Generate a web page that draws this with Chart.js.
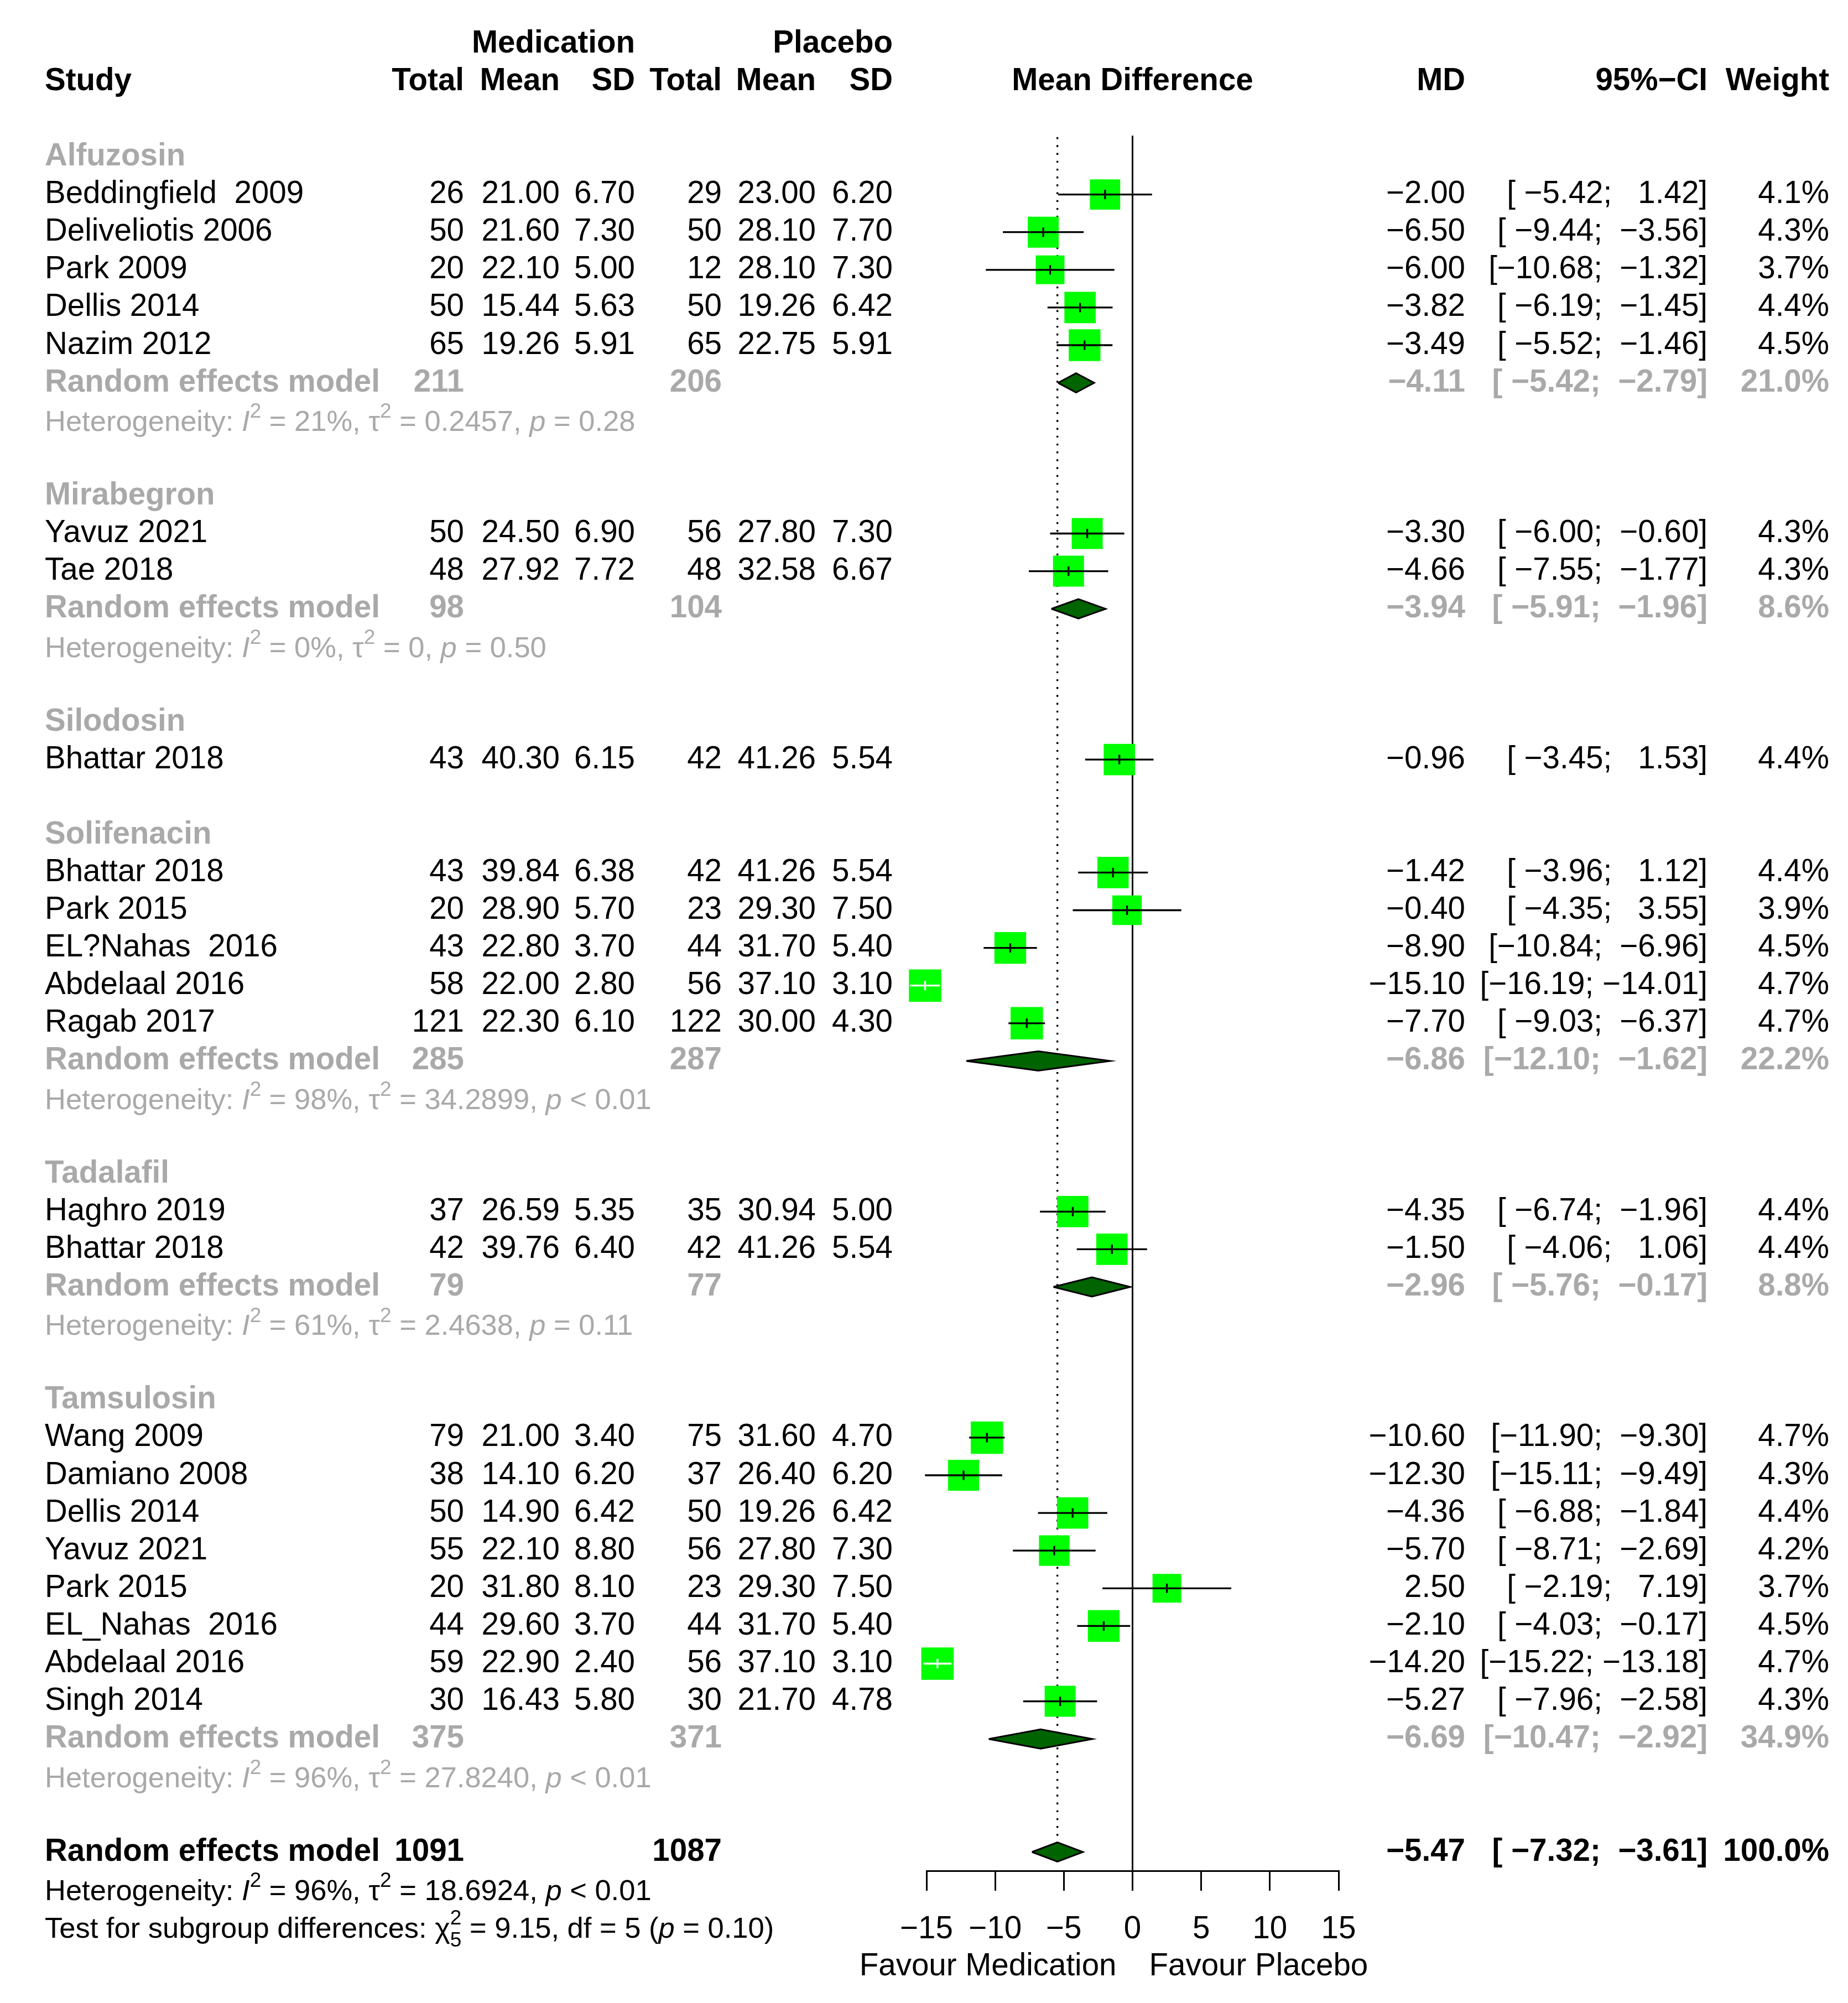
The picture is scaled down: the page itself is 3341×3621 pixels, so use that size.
<!DOCTYPE html>
<html>
<head>
<meta charset="utf-8">
<script src="https://cdn.jsdelivr.net/npm/chart.js@4.4.1/dist/chart.umd.min.js"></script>
<style>
html,body{margin:0;padding:0;background:#fff;}
#wrap{width:3341px;height:3621px;position:relative;}
canvas{display:block;}
</style>
</head>
<body>
<div id="wrap"><canvas id="c" width="3341" height="3621"></canvas></div>
<script>
// ---------------- DATA ----------------
const groupNames = ['Alfuzosin', 'Mirabegron', 'Silodosin', 'Solifenacin', 'Tadalafil', 'Tamsulosin'];

const studyNames = ['Beddingfield  2009', 'Deliveliotis 2006', 'Park 2009', 'Dellis 2014', 'Nazim 2012',
  'Yavuz 2021', 'Tae 2018',
  'Bhattar 2018',
  'Bhattar 2018', 'Park 2015', 'EL?Nahas  2016', 'Abdelaal 2016', 'Ragab 2017',
  'Haghro 2019', 'Bhattar 2018',
  'Wang 2009', 'Damiano 2008', 'Dellis 2014', 'Yavuz 2021', 'Park 2015', 'EL_Nahas  2016', 'Abdelaal 2016', 'Singh 2014'];
const studyGroup = [0, 0, 0, 0, 0, 1, 1, 2, 3, 3, 3, 3, 3, 4, 4, 5, 5, 5, 5, 5, 5, 5, 5];

const medTotal = [26, 50, 20, 50, 65, 50, 48, 43, 43, 20, 43, 58, 121, 37, 42, 79, 38, 50, 55, 20, 44, 59, 30];
const medMean = [21.00, 21.60, 22.10, 15.44, 19.26, 24.50, 27.92, 40.30, 39.84, 28.90, 22.80, 22.00, 22.30, 26.59, 39.76, 21.00, 14.10, 14.90, 22.10, 31.80, 29.60, 22.90, 16.43];
const medSD = [6.70, 7.30, 5.00, 5.63, 5.91, 6.90, 7.72, 6.15, 6.38, 5.70, 3.70, 2.80, 6.10, 5.35, 6.40, 3.40, 6.20, 6.42, 8.80, 8.10, 3.70, 2.40, 5.80];
const plaTotal = [29, 50, 12, 50, 65, 56, 48, 42, 42, 23, 44, 56, 122, 35, 42, 75, 37, 50, 56, 23, 44, 56, 30];
const plaMean = [23.00, 28.10, 28.10, 19.26, 22.75, 27.80, 32.58, 41.26, 41.26, 29.30, 31.70, 37.10, 30.00, 30.94, 41.26, 31.60, 26.40, 19.26, 27.80, 29.30, 31.70, 37.10, 21.70];
const plaSD = [6.20, 7.70, 7.30, 6.42, 5.91, 7.30, 6.67, 5.54, 5.54, 7.50, 5.40, 3.10, 4.30, 5.00, 5.54, 4.70, 6.20, 6.42, 7.30, 7.50, 5.40, 3.10, 4.78];
const meanDiff = [-2.00, -6.50, -6.00, -3.82, -3.49, -3.30, -4.66, -0.96, -1.42, -0.40, -8.90, -15.10, -7.70, -4.35, -1.50, -10.60, -12.30, -4.36, -5.70, 2.50, -2.10, -14.20, -5.27];
const ciLower = [-5.42, -9.44, -10.68, -6.19, -5.52, -6.00, -7.55, -3.45, -3.96, -4.35, -10.84, -16.19, -9.03, -6.74, -4.06, -11.90, -15.11, -6.88, -8.71, -2.19, -4.03, -15.22, -7.96];
const ciUpper = [1.42, -3.56, -1.32, -1.45, -1.46, -0.60, -1.77, 1.53, 1.12, 3.55, -6.96, -14.01, -6.37, -1.96, 1.06, -9.30, -9.49, -1.84, -2.69, 7.19, -0.17, -13.18, -2.58];
const weight = [4.1, 4.3, 3.7, 4.4, 4.5, 4.3, 4.3, 4.4, 4.4, 3.9, 4.5, 4.7, 4.7, 4.4, 4.4, 4.7, 4.3, 4.4, 4.2, 3.7, 4.5, 4.7, 4.3];

const groupMedTotal = [211, 98, null, 285, 79, 375];
const groupPlaTotal = [206, 104, null, 287, 77, 371];
const groupMD = [-4.11, -3.94, null, -6.86, -2.96, -6.69];
const groupLower = [-5.42, -5.91, null, -12.10, -5.76, -10.47];
const groupUpper = [-2.79, -1.96, null, -1.62, -0.17, -2.92];
const groupWeight = [21.0, 8.6, null, 22.2, 8.8, 34.9];
const groupI2 = ['21%', '0%', null, '98%', '61%', '96%'];
const groupTau2 = ['0.2457', '0', null, '34.2899', '2.4638', '27.8240'];
const groupP = ['= 0.28', '= 0.50', null, '< 0.01', '= 0.11', '< 0.01'];

const overallMedTotal = 1091;
const overallPlaTotal = 1087;
const overallMD = -5.47;
const overallLower = -7.32;
const overallUpper = -3.61;
const overallWeight = 100.0;
const overallI2 = '96%';
const overallTau2 = '18.6924';
const overallP = '< 0.01';
const subgroupChi2 = '9.15';
const subgroupDf = '5';
const subgroupP = '= 0.10';

const xTickValues = [-15, -10, -5, 0, 5, 10, 15];
const labelLeft = 'Favour Medication';
const labelRight = 'Favour Placebo';

// ---------------- LAYOUT / STYLE ----------------
const W = 3341, H = 3621;
const ROW0 = 283.5, ROWH = 68.1;
const PLOT_L = 1675, PLOT_R = 2420;
const AXIS_H = 180;
const FONT = '"Liberation Sans", Arial, Helvetica, sans-serif';
const SIZE = 56.5, HSIZE = 52.5;
const GRAY = '#A9A9A9';
const COL = {study: 81, nMed: 839, meanMed: 1012, sdMed: 1148, nPla: 1305, meanPla: 1475, sdPla: 1614, md: 2649, ci: 3087, w: 3307};
const BOX_K = 27;       // square side = BOX_K * sqrt(weight)
const DIA_H = 0.257;    // diamond half height in rows

// ---------------- ROWS ----------------
const rows = [];
const studyRow = [];
const groupRemRow = [];
let rr = 0;
groupNames.forEach((g, gi) => {
  rows.push({type: 'group', gi, r: rr++});
  studyNames.forEach((s, si) => {
    if (studyGroup[si] === gi) { studyRow[si] = rr; rows.push({type: 'study', si, r: rr++}); }
  });
  if (groupMD[gi] !== null) {
    groupRemRow[gi] = rr;
    rows.push({type: 'rem', gi, r: rr++});
    rows.push({type: 'het', gi, r: rr++});
  }
  rr++;
});
const overallRow = rr;
const yMin = -0.5, yMax = overallRow + 0.5;
const plotBottom = ROW0 + yMax * ROWH;

// ---------------- FORMAT ----------------
const minus = v => (v < 0 ? '\u2212' : '') + Math.abs(v).toFixed(2);
const padL = (s, n) => ' '.repeat(Math.max(0, n - s.length)) + s;
const ciText = (lo, hi) => '[' + padL(minus(lo), 6) + '; ' + padL(minus(hi), 6) + ']';
const wText = w => w.toFixed(1) + '%';

// ---------------- DATASETS ----------------
const pxPerUnit = (PLOT_R - PLOT_L) / 30;
const side = si => BOX_K * Math.sqrt(weight[si]);
const inside = studyNames.map((s, si) => (ciUpper[si] - ciLower[si]) * pxPerUnit <= side(si));

const ciBlack = [], ciWhite = [];
studyNames.forEach((s, si) => {
  const tgt = inside[si] ? ciWhite : ciBlack;
  tgt.push({x: ciLower[si], y: studyRow[si]}, {x: ciUpper[si], y: studyRow[si]}, {x: null, y: null});
});

const squares = studyNames.map((s, si) => ({x: meanDiff[si], y: studyRow[si]}));
const squareRadius = studyNames.map((s, si) => side(si) / Math.SQRT2);
const tickColors = inside.map(v => v ? '#FFFFFF' : '#000000');

const diamondSets = [];
const diamond = (lo, m, hi, r) => [{x: lo, y: r}, {x: m, y: r - DIA_H}, {x: hi, y: r}, {x: m, y: r + DIA_H}, {x: lo, y: r}];
groupNames.forEach((g, gi) => {
  if (groupMD[gi] === null) return;
  diamondSets.push(diamond(groupLower[gi], groupMD[gi], groupUpper[gi], groupRemRow[gi]));
});
diamondSets.push(diamond(overallLower, overallMD, overallUpper, overallRow));

const datasets = [];
diamondSets.forEach(d => datasets.push({
  data: d, showLine: true, fill: 'shape', backgroundColor: '#006400', borderColor: '#000000',
  borderWidth: 3, pointRadius: 0, tension: 0, borderJoinStyle: 'miter', order: 0, clip: false
}));
datasets.push({data: squares, showLine: false, pointStyle: 'line', pointRotation: 90, pointRadius: 8.5,
  pointBorderWidth: 3.3, pointBorderColor: tickColors, pointBackgroundColor: tickColors, order: 1, clip: false});
datasets.push({data: ciWhite, showLine: true, spanGaps: false, borderColor: '#FFFFFF', borderWidth: 3.3, pointRadius: 0, order: 2, clip: false});
datasets.push({data: ciBlack, showLine: true, spanGaps: false, borderColor: '#000000', borderWidth: 3.3, pointRadius: 0, order: 3, clip: false});
datasets.push({data: squares, showLine: false, pointStyle: 'rect', pointRadius: squareRadius,
  pointBackgroundColor: '#00FF00', pointBorderWidth: 0, order: 4, clip: false});
datasets.push({data: [{x: 0, y: -0.56}, {x: 0, y: yMax}], showLine: true, borderColor: '#000000', borderWidth: 3,
  pointRadius: 0, order: 5, clip: false});
datasets.push({data: [{x: overallMD, y: -0.52}, {x: overallMD, y: overallRow - DIA_H - 0.06}], showLine: true,
  borderColor: '#000000', borderWidth: 3.4, borderDash: [3.4, 10.8], borderCapStyle: 'butt', pointRadius: 0, order: 6, clip: false});

// ---------------- TEXT ----------------
function txt(ctx, s, x, y, align, bold, color, size) {
  ctx.font = (bold ? 'bold ' : '') + (size || SIZE) + 'px ' + FONT;
  ctx.fillStyle = color;
  ctx.textAlign = align;
  ctx.textBaseline = 'middle';
  ctx.fillText(s, x, y);
}
function rich(ctx, segs, x, y, color, size) {
  const base = y + 0.358 * size;
  let cx = x;
  ctx.fillStyle = color; ctx.textAlign = 'left'; ctx.textBaseline = 'alphabetic';
  const small = Math.round(size * 0.7);
  segs.forEach(([t, st]) => {
    if (st === 'supsub') {
      const [a, b] = t.split('|');
      ctx.font = small + 'px ' + FONT;
      const wa = ctx.measureText(a).width, wb = ctx.measureText(b).width;
      ctx.fillText(a, cx, base - 0.45 * size);
      ctx.fillText(b, cx, base + 0.3 * size);
      cx += Math.max(wa, wb);
      return;
    }
    ctx.font = (st === 'i' ? 'italic ' : '') + (st === 'sup' ? small : size) + 'px ' + FONT;
    ctx.fillText(t, cx, base + (st === 'sup' ? -0.45 * size : 0));
    cx += ctx.measureText(t).width;
  });
}
const hetSegs = (i2, tau2, p) => [['Heterogeneity: ', 'n'], ['I', 'i'], ['2', 'sup'], [' = ' + i2 + ', ', 'n'],
  ['\u03C4', 'n'], ['2', 'sup'], [' = ' + tau2 + ', ', 'n'], ['p', 'i'], [' ' + p, 'n']];

const tablePlugin = {
  id: 'forestTable',
  beforeDraw(chart) {
    const c = chart.ctx; c.save(); c.fillStyle = '#fff'; c.fillRect(0, 0, chart.width, chart.height); c.restore();
  },
  afterDraw(chart) {
    const ctx = chart.ctx, ys = chart.scales.y, xs = chart.scales.x;
    const Y = r => ys.getPixelForValue(r);
    ctx.save();
    // headers
    txt(ctx, 'Medication', COL.sdMed, Y(-3), 'right', true, '#000');
    txt(ctx, 'Placebo', COL.sdPla, Y(-3), 'right', true, '#000');
    const hy = Y(-2);
    txt(ctx, 'Study', COL.study, hy, 'left', true, '#000');
    txt(ctx, 'Total', COL.nMed, hy, 'right', true, '#000');
    txt(ctx, 'Mean', COL.meanMed, hy, 'right', true, '#000');
    txt(ctx, 'SD', COL.sdMed, hy, 'right', true, '#000');
    txt(ctx, 'Total', COL.nPla, hy, 'right', true, '#000');
    txt(ctx, 'Mean', COL.meanPla, hy, 'right', true, '#000');
    txt(ctx, 'SD', COL.sdPla, hy, 'right', true, '#000');
    txt(ctx, 'Mean Difference', xs.getPixelForValue(0), hy, 'center', true, '#000');
    txt(ctx, 'MD', COL.md, hy, 'right', true, '#000');
    txt(ctx, '95%\u2212CI', COL.ci, hy, 'right', true, '#000');
    txt(ctx, 'Weight', COL.w, hy, 'right', true, '#000');

    rows.forEach(row => {
      const y = Y(row.r);
      if (row.type === 'group') {
        txt(ctx, groupNames[row.gi], COL.study, y, 'left', true, GRAY);
      } else if (row.type === 'study') {
        const i = row.si, k = '#000';
        txt(ctx, studyNames[i], COL.study, y, 'left', false, k);
        txt(ctx, String(medTotal[i]), COL.nMed, y, 'right', false, k);
        txt(ctx, medMean[i].toFixed(2), COL.meanMed, y, 'right', false, k);
        txt(ctx, medSD[i].toFixed(2), COL.sdMed, y, 'right', false, k);
        txt(ctx, String(plaTotal[i]), COL.nPla, y, 'right', false, k);
        txt(ctx, plaMean[i].toFixed(2), COL.meanPla, y, 'right', false, k);
        txt(ctx, plaSD[i].toFixed(2), COL.sdPla, y, 'right', false, k);
        txt(ctx, minus(meanDiff[i]), COL.md, y, 'right', false, k);
        txt(ctx, ciText(ciLower[i], ciUpper[i]), COL.ci, y, 'right', false, k);
        txt(ctx, wText(weight[i]), COL.w, y, 'right', false, k);
      } else if (row.type === 'rem') {
        const g = row.gi;
        txt(ctx, 'Random effects model', COL.study, y, 'left', true, GRAY);
        txt(ctx, String(groupMedTotal[g]), COL.nMed, y, 'right', true, GRAY);
        txt(ctx, String(groupPlaTotal[g]), COL.nPla, y, 'right', true, GRAY);
        txt(ctx, minus(groupMD[g]), COL.md, y, 'right', true, GRAY);
        txt(ctx, ciText(groupLower[g], groupUpper[g]), COL.ci, y, 'right', true, GRAY);
        txt(ctx, wText(groupWeight[g]), COL.w, y, 'right', true, GRAY);
      } else if (row.type === 'het') {
        const g = row.gi;
        rich(ctx, hetSegs(groupI2[g], groupTau2[g], groupP[g]), COL.study, y, GRAY, HSIZE);
      }
    });
    // overall
    const oy = Y(overallRow);
    txt(ctx, 'Random effects model', COL.study, oy, 'left', true, '#000');
    txt(ctx, String(overallMedTotal), COL.nMed, oy, 'right', true, '#000');
    txt(ctx, String(overallPlaTotal), COL.nPla, oy, 'right', true, '#000');
    txt(ctx, minus(overallMD), COL.md, oy, 'right', true, '#000');
    txt(ctx, ciText(overallLower, overallUpper), COL.ci, oy, 'right', true, '#000');
    txt(ctx, wText(overallWeight), COL.w, oy, 'right', true, '#000');
    rich(ctx, hetSegs(overallI2, overallTau2, overallP), COL.study, Y(overallRow + 1), '#000', HSIZE);
    rich(ctx, [['Test for subgroup differences: ', 'n'], ['\u03C7', 'n'], ['2|' + subgroupDf, 'supsub'],
      [' = ' + subgroupChi2 + ', df = ' + subgroupDf + ' (', 'n'], ['p', 'i'], [' ' + subgroupP + ')', 'n']],
      COL.study, Y(overallRow + 2), '#000', HSIZE);
    // favour labels
    const x0 = xs.getPixelForValue(0);
    txt(ctx, labelLeft, x0 - 29, Y(overallRow + 3.04), 'right', false, '#000');
    txt(ctx, labelRight, x0 + 30, Y(overallRow + 3.04), 'left', false, '#000');
    ctx.restore();
  }
};

new Chart(document.getElementById('c'), {
  type: 'scatter',
  data: {datasets},
  options: {
    responsive: false,
    maintainAspectRatio: false,
    devicePixelRatio: 1,
    animation: false,
    events: [],
    layout: {padding: {left: PLOT_L, right: W - PLOT_R, top: ROW0 + yMin * ROWH, bottom: H - plotBottom - AXIS_H}},
    plugins: {legend: {display: false}, tooltip: {enabled: false}},
    scales: {
      x: {
        type: 'linear', position: 'bottom', min: xTickValues[0], max: xTickValues[xTickValues.length - 1],
        afterBuildTicks: s => { s.ticks = xTickValues.map(v => ({value: v})); },
        ticks: {font: {size: SIZE, family: FONT}, color: '#000', padding: 36, maxRotation: 0, autoSkip: false,
          callback: v => (v < 0 ? '\u2212' : '') + Math.abs(v)},
        grid: {drawOnChartArea: false, drawTicks: true, tickLength: 36, color: '#000', lineWidth: 3},
        border: {display: true, color: '#000', width: 3},
        afterFit: s => { s.height = AXIS_H; }
      },
      y: {type: 'linear', display: false, reverse: true, min: yMin, max: yMax}
    }
  },
  plugins: [tablePlugin]
});
</script>
</body>
</html>
